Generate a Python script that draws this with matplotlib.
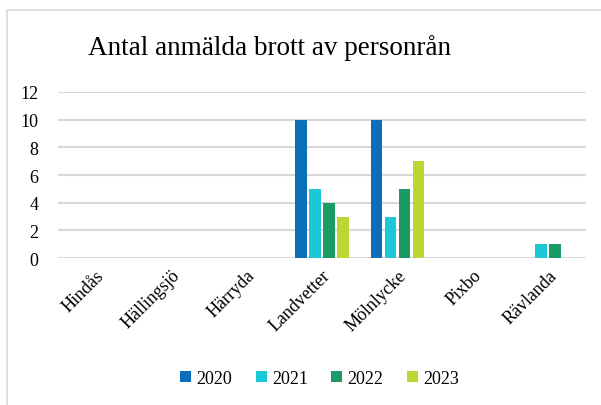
import numpy as np
import matplotlib.pyplot as plt
from matplotlib.patches import Rectangle

plt.rcParams['font.family'] = ['Liberation Serif', 'DejaVu Serif']

orter = ['Hindås', 'Hällingsjö', 'Härryda', 'Landvetter', 'Mölnlycke', 'Pixbo', 'Rävlanda']
ar = ['2020', '2021', '2022', '2023']
v2020 = [0, 0, 0, 10, 10, 0, 0]
v2021 = [0, 0, 0, 5, 3, 0, 1]
v2022 = [0, 0, 0, 4, 5, 0, 1]
v2023 = [0, 0, 0, 3, 7, 0, 0]
farger = ['#0A6EB8', '#1CC8D6', '#1A9A64', '#BCD634']

fig = plt.figure(figsize=(6.01, 4.06), dpi=100)
ax = fig.add_axes([0.0965, 0.362, 0.8785, 0.409])

# light frame of the chart area (only top/left visible)
fig.patches.append(Rectangle((7 / 601, -0.1), 1.2, 1.1 - 11 / 406, transform=fig.transFigure,
                             fill=False, edgecolor='#D9D9D9', linewidth=1.2))

x = np.arange(len(orter))
steg = 0.186
bredd = 0.155
for i, (serie, f) in enumerate(zip([v2020, v2021, v2022, v2023], farger)):
    ax.bar(x + (i - 1.5) * steg, serie, width=bredd, color=f, label=ar[i], zorder=3)

ax.set_xlim(-0.5, len(orter) - 0.5)
ax.set_ylim(0, 12)
ax.set_yticks(range(0, 13, 2))
ax.yaxis.grid(True, color='#D9D9D9', linewidth=1.5, zorder=0)
ax.set_axisbelow(True)
for s in ax.spines.values():
    s.set_visible(False)
ax.tick_params(axis='both', length=0, labelsize=13, pad=6)
ax.tick_params(axis='y', pad=14)
ax.set_xticks(x)
ax.set_xticklabels(orter, rotation=45, ha='right', rotation_mode='anchor')

fig.text(0.449, 0.882, 'Antal anmälda brott av personrån', ha='center', va='center', fontsize=19.5)

fig.legend(loc='center', bbox_to_anchor=(0.532, 0.065), ncol=4, frameon=False,
           prop={'family': 'Liberation Serif', 'size': 13},
           handlelength=0.6, handleheight=0.6, handletextpad=0.3, columnspacing=1.3)

fig.savefig('out.png', dpi=100)
